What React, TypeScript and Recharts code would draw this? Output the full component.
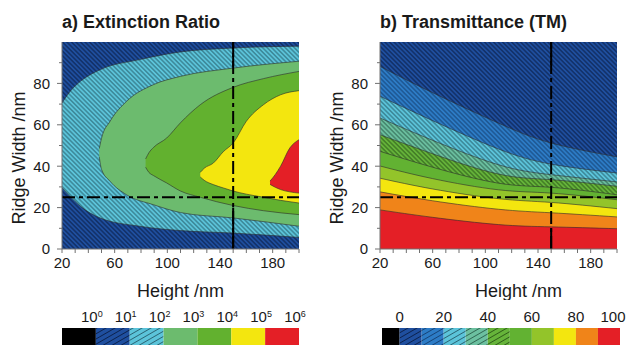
import React from 'react';
import { ComposedChart, Area, XAxis, YAxis, ReferenceLine, CartesianGrid, BarChart, Bar } from 'recharts';

const font = '"Liberation Sans", Arial, Helvetica, sans-serif';
const axisColor = '#707070';
const textColor = '#1a1a1a';

// ---------- axis ticks ----------
const xTicks = [20, 30, 40, 50, 60, 70, 80, 90, 100, 110, 120, 130, 140, 150, 160, 170, 180, 190, 200];
const xLabelTicks = [20, 60, 100, 140, 180];
const yTicks = [0, 10, 20, 30, 40, 50, 60, 70, 80, 90];
const yLabelTicks = [0, 20, 40, 60, 80];

// ---------- panel a: extinction ratio regions [lower, upper] ridge width vs height ----------
const er10to100 = [
  { h: 20, r: [29.5, 70.5] },
  { h: 26, r: [25.5, 76] },
  { h: 34, r: [20.6, 81] },
  { h: 49, r: [15, 86.6] },
  { h: 79, r: [11, 91.5] },
  { h: 110, r: [8.9, 95.2] },
  { h: 150, r: [7.7, 97.1] },
  { h: 200, r: [5.6, 98] },
];
const er100to1e3 = [
  { h: 48.3, r: [44.5, 48.5] },
  { h: 50, r: [38.5, 53.5] },
  { h: 56.5, r: [32.7, 61.7] },
  { h: 69, r: [26.2, 71.3] },
  { h: 89.4, r: [21.4, 79.4] },
  { h: 110, r: [17.6, 83.4] },
  { h: 150, r: [15, 87.4] },
  { h: 200, r: [11, 90.7] },
];
const er1e3to1e4 = [
  { h: 83.5, r: [39.5, 43.5] },
  { h: 86, r: [37, 46.5] },
  { h: 89.4, r: [35.5, 49] },
  { h: 99.5, r: [31.9, 53.6] },
  { h: 110, r: [28, 61] },
  { h: 125, r: [25, 69.7] },
  { h: 150, r: [21, 78.1] },
  { h: 173, r: [18.5, 82.3] },
  { h: 200, r: [16.6, 85.8] },
];
const er1e4to1e5 = [
  { h: 125, r: [34.8, 37] },
  { h: 128, r: [33.2, 39] },
  { h: 134.9, r: [31.1, 41.5] },
  { h: 142.5, r: [29.5, 47] },
  { h: 150, r: [28, 51.2] },
  { h: 160, r: [26.5, 61.7] },
  { h: 173, r: [25, 69.7] },
  { h: 186, r: [23.5, 74.5] },
  { h: 200, r: [22.2, 76.5] },
];
const er1e5to1e6 = [
  { h: 178, r: [31.2, 32.8] },
  { h: 182, r: [29.8, 36] },
  { h: 186, r: [28.7, 40] },
  { h: 193, r: [27.6, 48.8] },
  { h: 200, r: [27, 52.8] },
];

// ---------- panel b: transmittance contour boundaries (upper ridge width of each band) ----------
const tmHeights = [20, 60, 110, 150, 200];
const tm10 = [88.2, 75.5, 60.8, 51.2, 44.5];
const tm20 = [73.8, 62, 48.3, 41, 36.7];
const tm30 = [63.3, 52.5, 40.7, 35.9, 32.4];
const tm40 = [55.2, 46, 36.2, 33.5, 30.3];
const tm50 = [47.2, 39.5, 31.8, 29.8, 26.2];
const tm60 = [40.1, 34, 28.6, 27, 23.8];
const tm70 = [34.2, 29, 24.3, 22.5, 19.5];
const tm80 = [27.6, 23.3, 19.2, 17.5, 15.5];
const tm90 = [18.9, 15.3, 11.8, 10.7, 9.8];
const tmData = tmHeights.map((h, i) => ({
  h, b1: tm10[i], b2: tm20[i], b3: tm30[i], b4: tm40[i], b5: tm50[i],
  b6: tm60[i], b7: tm70[i], b8: tm80[i], b9: tm90[i],
}));

// ---------- reference cut lines ----------
const cutHeight = 150;
const cutWidth = 25;
// solid stretches of the vertical cut line [from, to] in ridge width
const cutSolidA = [[0, 20], [88, 100]];
const cutSolidB = [[0, 10], [89, 100]];

// ---------- colorbars ----------
const erBarFills = ['#000000', 'url(#cbA_db)', 'url(#cbA_lb)', '#6cbb6e', '#62b12f', '#f3e60f', '#e41f26'];
const erBarWidths = [1, 1, 1, 1, 1, 1, 1];
const erBarTickPos = [1, 2, 3, 4, 5, 6, 7];
const erBarExponents = ['0', '1', '2', '3', '4', '5', '6'];

const tmBarFills = ['#000000', 'url(#cbB_db)', 'url(#cbB_bl)', 'url(#cbB_lb)', 'url(#cbB_te)', 'url(#cbB_hg)', '#62b232', '#93c42a', '#f3e60f', '#f08419', '#e41f26'];
const tmBarWidths = [0.8, 1, 1, 1, 1, 1, 1, 1, 1, 1, 1];
const tmBarTickPos = [0.8, 2.8, 4.8, 6.8, 8.8, 10.8];
const tmBarLabels = ['0', '20', '40', '60', '80', '100'];

// ---------- colours ----------
const cDark = '#1f4f9f', cDarkLine = '#061536';
const cBlue = '#2d7cc6', cBlueLine = '#0f3260';
const cLight = '#5cc4da', cLightLine = '#1b4a58';
const cTeal = '#6cc0a0', cTealLine = '#1f4e3d';
const cHG = '#66b43a', cHGLine = '#1f4610';

// ---------- helpers ----------
const Hatch = ({ id, bg, line, gap, angle, w }: any) => (
  <pattern id={id} patternUnits="userSpaceOnUse" width={gap} height={gap} patternTransform={`rotate(${angle})`}>
    <rect x={0} y={0} width={gap} height={gap} fill={bg} />
    <line x1={gap / 2} y1={-1} x2={gap / 2} y2={gap + 1} stroke={line} strokeWidth={w} />
  </pattern>
);

const XTick = (props: any) => {
  const { x, y, payload } = props;
  const v = payload.value;
  const major = xLabelTicks.includes(v);
  return (
    <g>
      <line x1={x} x2={x} y1={y} y2={y + 4} stroke={axisColor} strokeWidth={1} />
      {major && (
        <text x={x} y={y + 19} textAnchor="middle" fontSize={15} fill={textColor} fontFamily={font}>{v}</text>
      )}
    </g>
  );
};

const YTick = (props: any) => {
  const { x, y, payload } = props;
  const v = payload.value;
  const major = yLabelTicks.includes(v);
  return (
    <g>
      <line x1={x} x2={x - (major ? 5 : 3)} y1={y} y2={y} stroke={axisColor} strokeWidth={1} />
      {major && (
        <text x={x - 12} y={y + 5.3} textAnchor="end" fontSize={15} fill={textColor} fontFamily={font}>{v}</text>
      )}
    </g>
  );
};

const XTitle = ({ viewBox, shift }: any) => {
  const cx = viewBox.x + viewBox.width / 2 + (shift || 0);
  return (
    <text x={cx} y={297} textAnchor="middle" fontSize={18} fill={textColor} fontFamily={font}>Height /nm</text>
  );
};

const YTitle = () => (
  <text x={25} y={158} transform="rotate(-90, 25, 158)" textAnchor="middle" fontSize={18} fill={textColor} fontFamily={font}>Ridge Width /nm</text>
);

const cutLine = { stroke: '#000', strokeWidth: 2, strokeDasharray: '13 4 4 4' };
const contour = { stroke: '#2b2b2b', strokeWidth: 0.6 };

const titleStyle: React.CSSProperties = {
  position: 'absolute', top: 13, fontFamily: font, fontWeight: 'bold', fontSize: 18, lineHeight: '18px',
  color: textColor, whiteSpace: 'nowrap',
};

const CbTickA = (props: any) => {
  const { x, y, index } = props;
  return (
    <text x={x - 4} y={y - 6.3} textAnchor="middle" fontSize={15} fill={textColor} fontFamily={font}>
      10<tspan dy={-5} fontSize={9}>{erBarExponents[index]}</tspan>
    </text>
  );
};

const CbTickB = (props: any) => {
  const { x, y, index } = props;
  const shift = index === tmBarLabels.length - 1 ? -7 : 0;
  return (
    <text x={x + shift} y={y - 6.3} textAnchor="middle" fontSize={15} fill={textColor} fontFamily={font}>
      {tmBarLabels[index]}
    </text>
  );
};

function ColorBar({ fills, widths, tickPos, tick, defs, width, mLeft, mRight }: any) {
  const row: any = { name: 'bar' };
  widths.forEach((w: number, i: number) => { row[`s${i}`] = w; });
  const total = widths.reduce((a: number, b: number) => a + b, 0);
  return (
    <BarChart width={width} height={45} data={[row]} layout="vertical" margin={{ top: 0, right: mRight, bottom: 0, left: mLeft }} barCategoryGap={0}>
      <defs>{defs}</defs>
      {fills.map((f: string, i: number) => (
        <Bar key={i} dataKey={`s${i}`} stackId="c" fill={f} isAnimationActive={false} />
      ))}
      <XAxis type="number" orientation="top" domain={[0, total]} ticks={tickPos} height={28}
        axisLine={false} tickLine={false} tickSize={0} tickMargin={0} tick={tick} interval={0} allowDataOverflow />
      <YAxis type="category" dataKey="name" hide />
    </BarChart>
  );
}

const areaCommon = { fillOpacity: 1, dot: false, activeDot: false, isAnimationActive: false, ...contour };

const solidSegments = (spans: number[][]) =>
  spans.map(([a, b], i) => (
    <ReferenceLine key={`solid${i}`} segment={[{ x: cutHeight, y: a }, { x: cutHeight, y: b }]} stroke="#000" strokeWidth={2} />
  ));

export default function App() {
  return (
    <div style={{ position: 'absolute', left: 0, top: 0, width: 627, height: 345, overflow: 'hidden', background: '#fff', fontFamily: font }}>
      <div style={{ ...titleStyle, left: 62 }}>a) Extinction Ratio</div>
      <div style={{ ...titleStyle, left: 380 }}>b) Transmittance (TM)</div>

      {/* Panel a */}
      <div style={{ position: 'absolute', left: 0, top: 0 }}>
        <ComposedChart width={310} height={300} margin={{ top: 42, right: 11, bottom: 0, left: 0 }}>
          <defs>
            <Hatch id="pa_db" bg={cDark} line={cDarkLine} gap={3.2} angle={-45} w={0.8} />
            <Hatch id="pa_lb" bg={cLight} line={cLightLine} gap={3.2} angle={-45} w={0.75} />
          </defs>
          <CartesianGrid horizontal={false} vertical={false} fill="url(#pa_db)" />
          <Area data={er10to100} dataKey="r" type="monotone" fill="url(#pa_lb)" {...areaCommon} />
          <Area data={er100to1e3} dataKey="r" type="monotone" fill="#6cbb6e" {...areaCommon} />
          <Area data={er1e3to1e4} dataKey="r" type="monotone" fill="#62b12f" {...areaCommon} />
          <Area data={er1e4to1e5} dataKey="r" type="monotone" fill="#f3e60f" {...areaCommon} />
          <Area data={er1e5to1e6} dataKey="r" type="monotone" fill="#e41f26" {...areaCommon} />
          <ReferenceLine x={cutHeight} {...cutLine} />
          {solidSegments(cutSolidA)}
          <ReferenceLine y={cutWidth} {...cutLine} />
          <XAxis dataKey="h" type="number" domain={[20, 200]} ticks={xTicks} interval={0} height={51}
            stroke={axisColor} tickLine={false} tickSize={0} tickMargin={0} tick={<XTick />} label={<XTitle shift={0} />} allowDataOverflow />
          <YAxis type="number" domain={[0, 100]} ticks={yTicks} interval={0} width={62}
            stroke={axisColor} tickLine={false} tickSize={0} tickMargin={0} tick={<YTick />} label={<YTitle />} allowDataOverflow />
          <XAxis xAxisId="top" orientation="top" type="number" domain={[20, 200]} height={0} tick={false} tickLine={false} stroke={axisColor} />
          <YAxis yAxisId="right" orientation="right" type="number" domain={[0, 100]} width={0} tick={false} tickLine={false} stroke={axisColor} />
        </ComposedChart>
      </div>

      {/* Panel b */}
      <div style={{ position: 'absolute', left: 318, top: 0 }}>
        <ComposedChart width={310} height={300} data={tmData} margin={{ top: 42, right: 11, bottom: 0, left: 0 }}>
          <defs>
            <Hatch id="pb_db" bg={cDark} line={cDarkLine} gap={3.2} angle={-45} w={0.8} />
            <Hatch id="pb_bl" bg={cBlue} line={cBlueLine} gap={3.2} angle={-45} w={0.75} />
            <Hatch id="pb_lb" bg={cLight} line={cLightLine} gap={3.2} angle={-45} w={0.75} />
            <Hatch id="pb_te" bg={cTeal} line={cTealLine} gap={3.2} angle={-45} w={0.75} />
            <Hatch id="pb_hg" bg={cHG} line={cHGLine} gap={3.2} angle={-45} w={0.75} />
          </defs>
          <CartesianGrid horizontal={false} vertical={false} fill="url(#pb_db)" />
          <Area dataKey="b1" type="natural" fill="url(#pb_bl)" {...areaCommon} />
          <Area dataKey="b2" type="natural" fill="url(#pb_lb)" {...areaCommon} />
          <Area dataKey="b3" type="natural" fill="url(#pb_te)" {...areaCommon} />
          <Area dataKey="b4" type="natural" fill="url(#pb_hg)" {...areaCommon} />
          <Area dataKey="b5" type="natural" fill="#62b232" {...areaCommon} />
          <Area dataKey="b6" type="natural" fill="#93c42a" {...areaCommon} />
          <Area dataKey="b7" type="natural" fill="#f3e60f" {...areaCommon} />
          <Area dataKey="b8" type="natural" fill="#f08419" {...areaCommon} />
          <Area dataKey="b9" type="natural" fill="#e41f26" {...areaCommon} />
          <ReferenceLine x={cutHeight} {...cutLine} />
          {solidSegments(cutSolidB)}
          <ReferenceLine y={cutWidth} {...cutLine} />
          <XAxis dataKey="h" type="number" domain={[20, 200]} ticks={xTicks} interval={0} height={51}
            stroke={axisColor} tickLine={false} tickSize={0} tickMargin={0} tick={<XTick />} label={<XTitle shift={20} />} allowDataOverflow />
          <YAxis type="number" domain={[0, 100]} ticks={yTicks} interval={0} width={62}
            stroke={axisColor} tickLine={false} tickSize={0} tickMargin={0} tick={<YTick />} label={<YTitle />} allowDataOverflow />
          <XAxis xAxisId="top" orientation="top" type="number" domain={[20, 200]} height={0} tick={false} tickLine={false} stroke={axisColor} />
          <YAxis yAxisId="right" orientation="right" type="number" domain={[0, 100]} width={0} tick={false} tickLine={false} stroke={axisColor} />
        </ComposedChart>
      </div>

      {/* Colorbars */}
      <div style={{ position: 'absolute', left: 42, top: 300 }}>
        <ColorBar width={277} mLeft={20} mRight={20} fills={erBarFills} widths={erBarWidths} tickPos={erBarTickPos} tick={<CbTickA />}
          defs={[
            <Hatch key="a" id="cbA_db" bg={cDark} line={cDarkLine} gap={4.5} angle={60} w={0.7} />,
            <Hatch key="b" id="cbA_lb" bg={cLight} line={cLightLine} gap={4.5} angle={60} w={0.7} />,
          ]} />
      </div>
      <div style={{ position: 'absolute', left: 362, top: 300 }}>
        <ColorBar width={265} mLeft={20} mRight={7} fills={tmBarFills} widths={tmBarWidths} tickPos={tmBarTickPos} tick={<CbTickB />}
          defs={[
            <Hatch key="a" id="cbB_db" bg={cDark} line={cDarkLine} gap={4.5} angle={60} w={0.7} />,
            <Hatch key="b" id="cbB_bl" bg={cBlue} line={cBlueLine} gap={4.5} angle={60} w={0.7} />,
            <Hatch key="c" id="cbB_lb" bg={cLight} line={cLightLine} gap={4.5} angle={60} w={0.7} />,
            <Hatch key="d" id="cbB_te" bg={cTeal} line={cTealLine} gap={4.5} angle={60} w={0.7} />,
            <Hatch key="e" id="cbB_hg" bg={cHG} line={cHGLine} gap={4.5} angle={60} w={0.7} />,
          ]} />
      </div>
    </div>
  );
}
